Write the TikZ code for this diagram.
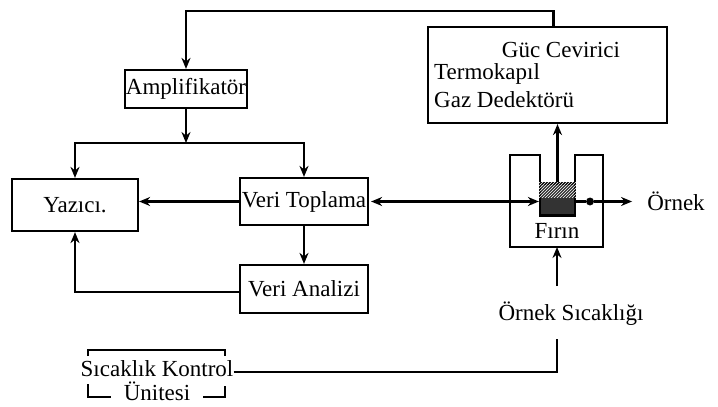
\documentclass[tikz,border=0pt]{standalone}
\usepackage{fontspec}
\setmainfont{Liberation Serif}
\usepackage{tikz}
\usetikzlibrary{arrows.meta,positioning,patterns,calc}

\begin{document}
\begin{tikzpicture}[
  x=1pt,y=-1pt,
  every node/.style={font=\fontsize{23}{27}\selectfont,inner sep=0pt},
  box/.style={rectangle,draw,line width=2.2pt},
  wire/.style={line width=2.2pt},
  arr/.style={-{Stealth[length=11pt,width=9pt]},line width=2.2pt},
  biarr/.style={{Stealth[length=11pt,width=9pt]}-{Stealth[length=11pt,width=9pt]},line width=2.2pt},
]
\useasboundingbox (0,0) rectangle (718,407);

% boxes
\node[box,minimum width=122pt,minimum height=38pt] (amp) at (186,89) {Amplifikatör};
\node[box,minimum width=239pt,minimum height=96pt] (guc) at (547.5,75) {};
\node (guc1) at (561,50) {Güc Cevirici};
\node[anchor=west] (guc2) at (434,74) {Termokapıl};
\node[anchor=west] (guc3) at (434,100) {Gaz Dedektörü};
\node[box,minimum width=126pt,minimum height=52pt] (yazici) at (75,205) {Yazıcı.};
\node[box,minimum width=128pt,minimum height=47pt] (vtop) at (304,201.5) {Veri Toplama};
\node[box,minimum width=128pt,minimum height=48pt] (vanal) at (304,289) {Veri Analizi};

% furnace
\draw[wire] (510,247) -- (510,155) -- (540,155) -- (540,183) -- (575,183) -- (575,155)
  -- (603,155) -- (603,247) -- cycle;
\node[draw,wire,fill=black!80,minimum width=35pt,minimum height=32pt] (sample) at (557.5,199.5) {};
\fill[pattern=north east lines,pattern color=white] (sample.north west) rectangle ($(sample.north east)!0.45!(sample.south east)$);
\node (firin) at (557,231) {Fırın};
\coordinate (fbot) at (557,247);
\node (ornek) at (676,201) {Örnek};
\node[circle,fill,inner sep=2.8pt] (dot) at (590,201.5) {};
\node (osic) at (571,314) {Örnek Sıcaklığı};

% control unit
\node (ctrl) at (157,369) {Sıcaklık Kontrol};
\node (unite) at (157,391) {Ünitesi};
\draw[wire] (88,356) -- (88,350) -- (225,350) -- (225,356);
\draw[wire] (88,384) -- (88,397) -- (111,397);
\draw[wire] (203,397) -- (225,397) -- (225,386);

% connectors
\draw[arr] ([xshift=6pt]guc.north) -- ++(0,-15) -| (amp.north);
\coordinate (split) at (186,143);
\draw[arr] (amp.south) -- (split);
\draw[arr] (split) -| (yazici.north);
\draw[arr] (split) -| (vtop.north);
\draw[arr] (vtop.west) -- (vtop.west -| yazici.east);
\draw[arr] (vtop.south) -- (vanal.north);
\draw[arr] ([yshift=-3pt]vanal.west) -| (yazici.south);
\draw[biarr] ([xshift=2pt]vtop.east) -- (sample.west |- vtop.east);
\draw[arr] (sample.north) -- (guc.south -| sample.north);
\draw[wire] (sample.east |- dot) -- (dot);
\draw[arr] (dot) -- ([xshift=-15pt]ornek.west |- dot);
\draw[arr] ($(osic.north -| fbot)+(0,-16)$) -- (fbot);
\draw[wire] ([yshift=-3pt]ctrl.east) -- ([yshift=-3pt]ctrl.east -| fbot) -- ($(osic.south -| fbot)+(0,13)$);
\end{tikzpicture}
\end{document}
